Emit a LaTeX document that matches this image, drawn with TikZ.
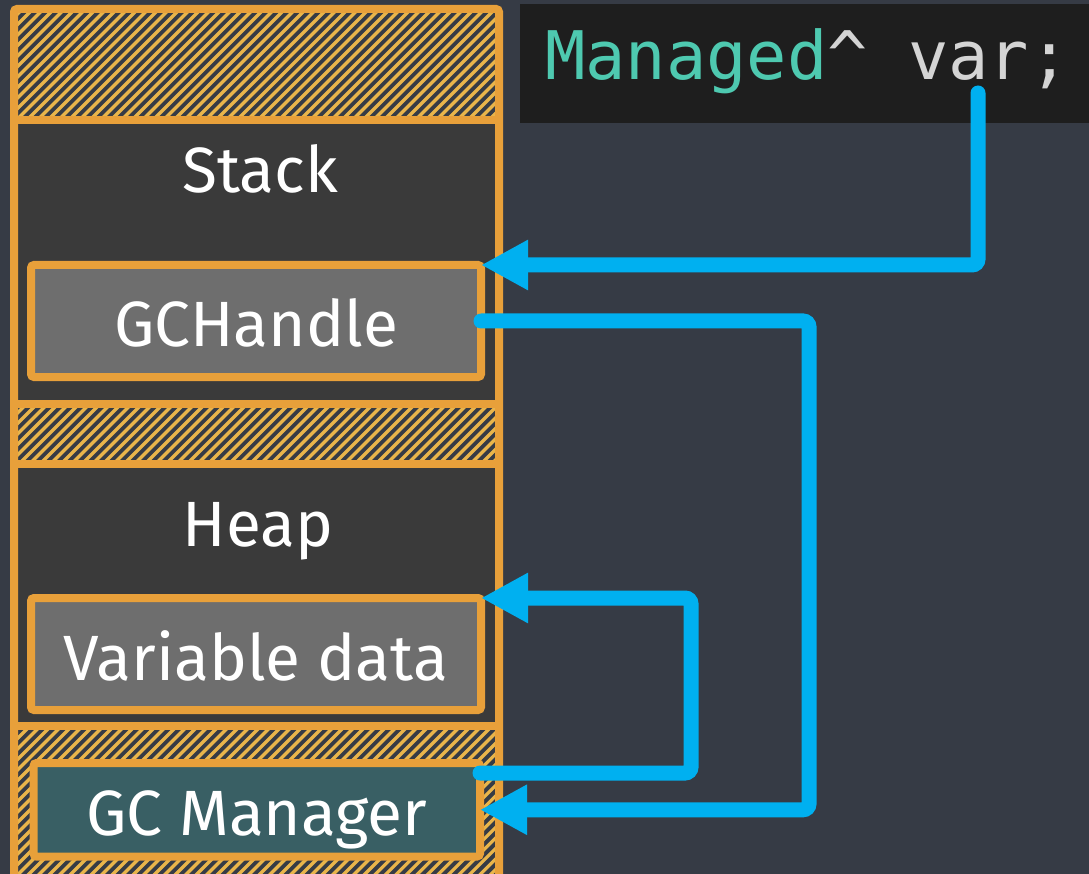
\documentclass[tikz,border=0pt]{standalone}
\usepackage{fontspec}
\setmainfont{Fira Sans}
\newfontfamily\codefont{DejaVu Sans Mono}
\usetikzlibrary{arrows.meta,calc}

\definecolor{pagebg}{HTML}{363B45}
\definecolor{codebg}{HTML}{1E1E1E}
\definecolor{colbg}{HTML}{3A3A3A}
\definecolor{frameorange}{HTML}{E8A03A}
\definecolor{hatchorange}{HTML}{E9B54B}
\definecolor{slotgray}{HTML}{6E6E6E}
\definecolor{slotteal}{HTML}{395F64}
\definecolor{linkblue}{HTML}{00B0F0}
\definecolor{typeteal}{HTML}{4EC9B0}
\definecolor{codegray}{HTML}{D4D4D4}

\newcommand{\labelfont}{\fontsize{64}{70}\selectfont}

\begin{document}
\begin{tikzpicture}[x=1pt,y=-1pt,
  slot/.style={draw=frameorange, line width=8pt, rounded corners=3pt,
    inner sep=0pt, outer sep=0pt, text=white, font=\labelfont,
    text height=52pt, text depth=0pt},
  sectionlabel/.style={anchor=base, inner sep=0pt, text=white, font=\labelfont},
  frame/.style={draw=frameorange, line width=8pt},
  hatchline/.style={draw=hatchorange, line width=3.2pt},
  link/.style={draw=linkblue, line width=15pt, line cap=round,
    rounded corners=6pt, -{Triangle[length=47pt,width=47pt]}}]

\useasboundingbox (0,0) rectangle (1089,874);
\clip (0,0) rectangle (1089,874);
\fill[pagebg] (0,0) rectangle (1089,874);

% code panel
\fill[codebg] (520,4) rectangle (1100,123);
\node[anchor=base west, inner sep=0pt, font=\codefont\fontsize{67}{70}\selectfont]
  (code) at (545,80) {\textcolor{typeteal}{Managed}\textcolor{codegray}{\char"5E{} var;}};
\coordinate (varpt) at (978,93);

% memory column: filled sections
\fill[colbg] (14,120.5) rectangle (499,404);
\fill[colbg] (14,464) rectangle (499,726);

% reserved (hatched) bands
\begin{scope}
  \clip (14,9) rectangle (499,120.5)
        (14,404) rectangle (499,464)
        (14,726) rectangle (499,900);
  \foreach \k in {0,...,135} {
    \draw[hatchline] ({\k*10.5-920},920) -- ++(940,-940);
  }
\end{scope}

% column frame and separators
\draw[frame, rounded corners=3pt] (14,9) rectangle (499,900);
\foreach \yy in {120.5,404,464,726} {
  \draw[frame] (14,\yy) -- (499,\yy);
}

% section titles
\node[sectionlabel] (stacklbl) at (260,193) {Stack};
\node[sectionlabel] (heaplbl) at (258,546) {Heap};

% slots
\node[slot, fill=slotgray, minimum width=450pt, minimum height=112pt]
  (gch) at (256,321) {GCHandle};
\node[slot, fill=slotgray, minimum width=450pt, minimum height=112pt]
  (vdata) at (256,654) {Variable data};
\node[slot, fill=slotteal, minimum width=446.5pt, minimum height=93.5pt]
  (gcm) at (256.75,809.75) {GC Manager};

% references
\draw[link] (varpt) |- (gch.north east);
\draw[link] (gch.east) -- ++(328,0) |- (gcm.east);
\draw[link] ($(gcm.north east)+(0,10)$) -- ++(211,0) |- (vdata.north east);

\end{tikzpicture}
\end{document}
